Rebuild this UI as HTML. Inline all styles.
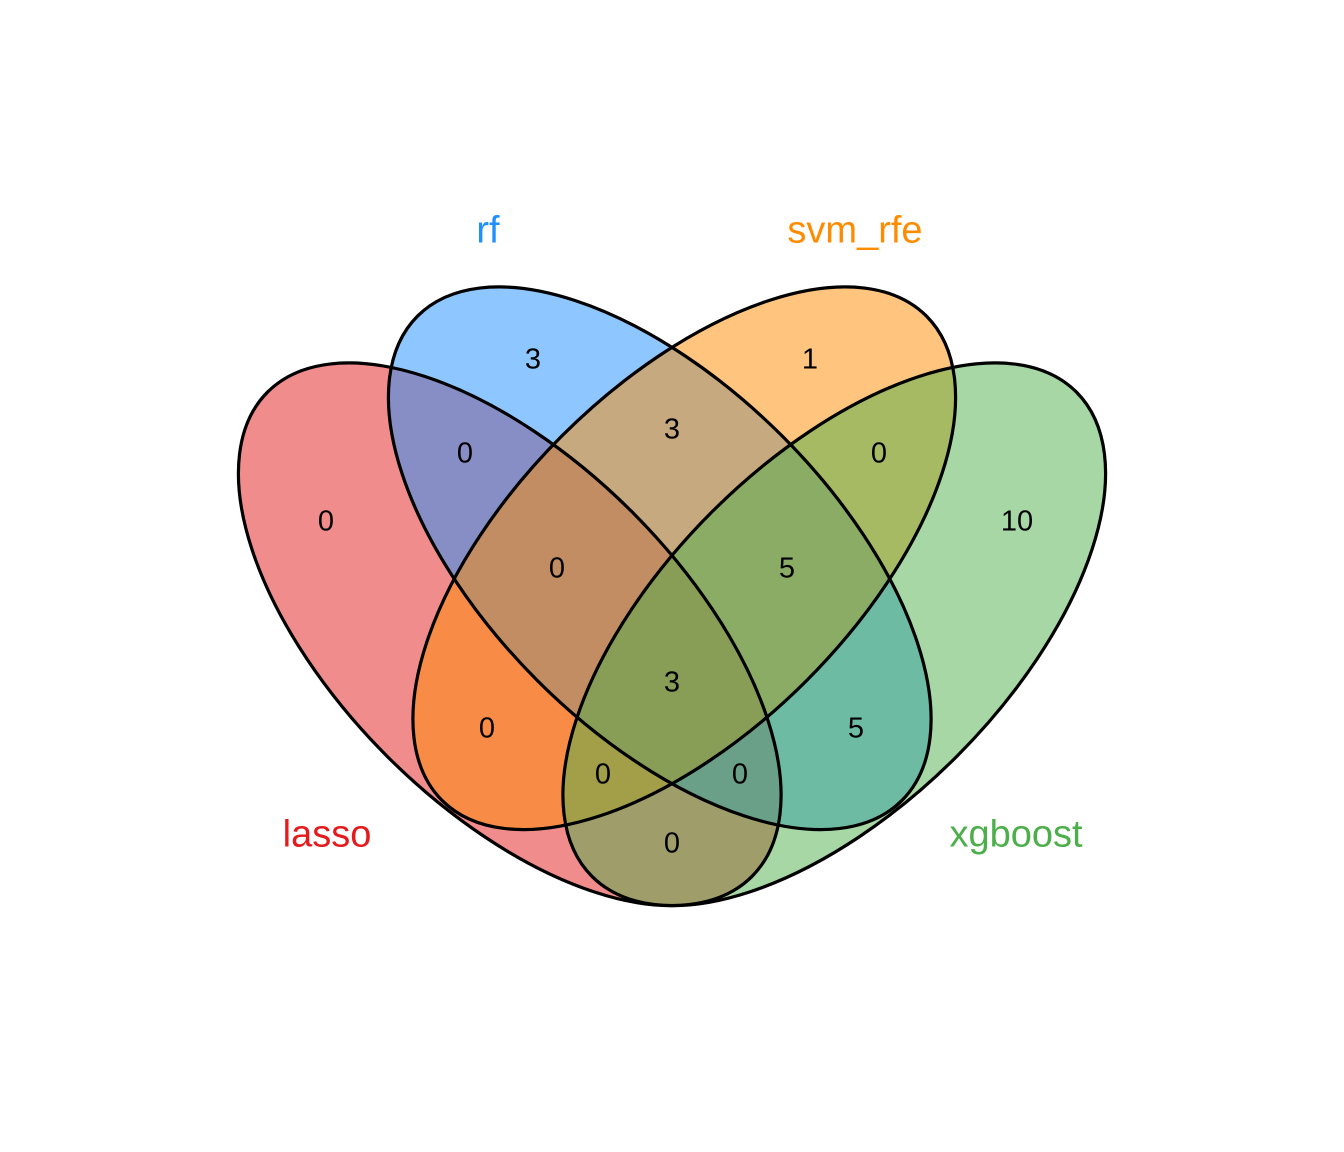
<!DOCTYPE html>
<html>
<head>
<meta charset="utf-8">
<style>
  html, body { margin: 0; padding: 0; background: #ffffff; }
  svg { display: block; }
  text { font-family: "Liberation Sans", Arial, sans-serif; }
</style>
</head>
<body>
<svg width="1344" height="1152" viewBox="0 0 1344 1152" xmlns="http://www.w3.org/2000/svg">
  <rect x="0" y="0" width="1344" height="1152" fill="#ffffff"/>
  <!-- fills -->
  <g>
    <ellipse cx="0" cy="0" rx="342.5" ry="173" transform="translate(509.75 634.25) rotate(45)" fill="#E41A1C" fill-opacity="0.5"/>
    <ellipse cx="0" cy="0" rx="342.5" ry="173" transform="translate(659.75 558.25) rotate(45)" fill="#1E90FF" fill-opacity="0.5"/>
    <ellipse cx="0" cy="0" rx="342.5" ry="173" transform="translate(684.25 558.25) rotate(-45)" fill="#FF8C00" fill-opacity="0.5"/>
    <ellipse cx="0" cy="0" rx="342.5" ry="173" transform="translate(834.25 634.25) rotate(-45)" fill="#4DAF4A" fill-opacity="0.5"/>
  </g>
  <!-- outlines -->
  <g fill="none" stroke="#000000" stroke-width="3.2">
    <ellipse cx="0" cy="0" rx="342.5" ry="173" transform="translate(509.75 634.25) rotate(45)"/>
    <ellipse cx="0" cy="0" rx="342.5" ry="173" transform="translate(659.75 558.25) rotate(45)"/>
    <ellipse cx="0" cy="0" rx="342.5" ry="173" transform="translate(684.25 558.25) rotate(-45)"/>
    <ellipse cx="0" cy="0" rx="342.5" ry="173" transform="translate(834.25 634.25) rotate(-45)"/>
  </g>
  <!-- counts -->
  <g font-size="29" fill="#000000" text-anchor="middle">
    <text x="533" y="368.4">3</text>
    <text x="810" y="368.4">1</text>
    <text x="465" y="462.4">0</text>
    <text x="672" y="438.4">3</text>
    <text x="879" y="462.4">0</text>
    <text x="326" y="530.4">0</text>
    <text x="1017" y="530.4">10</text>
    <text x="557" y="577.4">0</text>
    <text x="787" y="577.4">5</text>
    <text x="672" y="691.4">3</text>
    <text x="487" y="737.4">0</text>
    <text x="856" y="737.4">5</text>
    <text x="603" y="783.4">0</text>
    <text x="740" y="783.4">0</text>
    <text x="672" y="852.4">0</text>
  </g>
  <!-- category labels -->
  <g font-size="38" text-anchor="middle">
    <text x="488" y="242.3" fill="#1E90FF">rf</text>
    <text x="855" y="242.3" fill="#FF8C00">svm_rfe</text>
    <text x="327" y="846.7" fill="#E41A1C">lasso</text>
    <text x="1016" y="846.7" fill="#4DAF4A">xgboost</text>
  </g>
</svg>
</body>
</html>
